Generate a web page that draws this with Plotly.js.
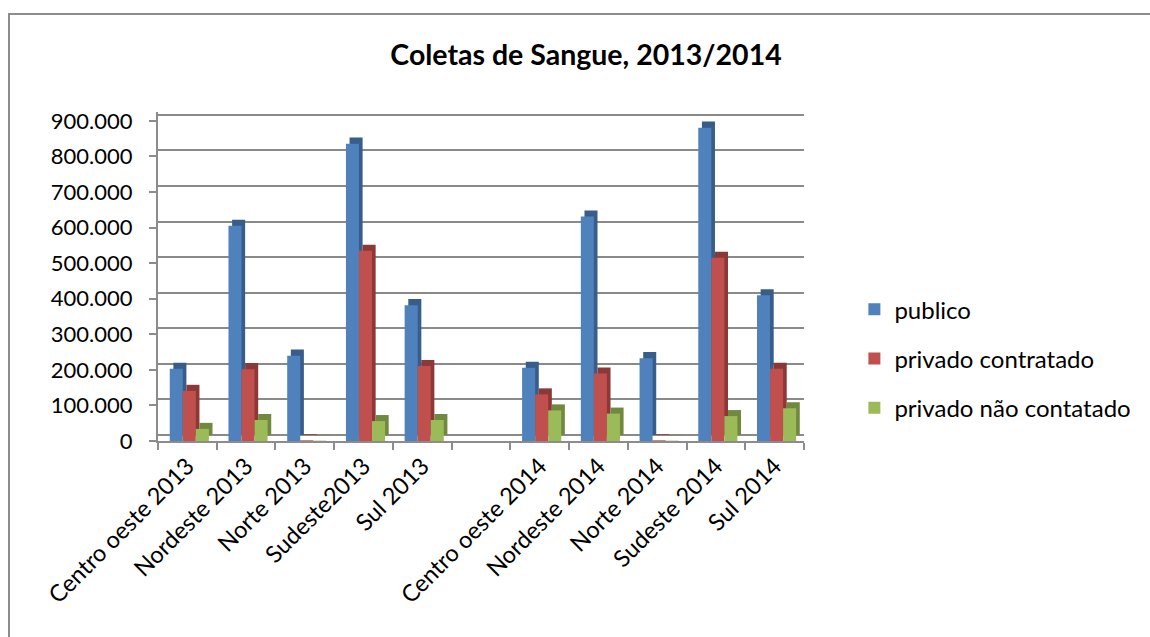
<!DOCTYPE html>
<html>
<head>
<meta charset="utf-8">
<script src="https://cdn.plot.ly/plotly-3.0.1.min.js"></script>
<style>
html,body{margin:0;padding:0;background:#fff;overflow:hidden;}
#chart{position:absolute;left:0;top:0;width:1150px;height:637px;}
#frame{position:absolute;left:8px;top:13px;width:1200px;height:700px;border-left:2px solid #8c8c8c;border-top:2px solid #8c8c8c;pointer-events:none;}
</style>
</head>
<body>
<div id="chart"></div>
<div id="frame"></div>
<script>
// ---- data ----
const categories = ['Centro oeste 2013','Nordeste 2013','Norte 2013','Sudeste2013','Sul 2013',' ',
                    'Centro oeste 2014','Nordeste 2014','Norte 2014','Sudeste 2014','Sul 2014'];
const publico = [203000, 605000, 240000, 836000, 382000, null, 206000, 631000, 233000, 881000, 410000];
const privadoContratado = [141000, 202000, 2000, 535000, 211000, null, 131000, 190000, 2000, 515000, 203000];
const privadoNaoContatado = [34000, 59000, 1000, 56000, 59000, null, 86000, 77000, 1000, 70000, 92000];
const seriesNames = ['publico','privado contratado','privado não contatado'];
const frontColors = ['#4F81BD','#C0504D','#9BBB59'];
const sideColors = ['#385D8A','#8C3836','#71893F'];

// ---- styling / geometry ----
const FONT = 'Lato, "Open Sans", sans-serif';
const TOP = 925000;          // visible value range of the front axis
const DEPTH_SHIFT = 17000;   // apparent depth (back wall and bar side faces)
const BAR_W = 0.222;
const offsets = [-0.30, -0.078, 0.144];
const DEPTH_X = 0.062;

const seriesValues = [publico, privadoContratado, privadoNaoContatado];
const sideAxes = ['y', 'y3', 'y5'];
const frontAxes = ['y2', 'y4', 'y6'];
const traces = [];
seriesValues.forEach((vals, i) => {
  // side / depth face (drawn first, behind front face)
  traces.push({
    type:'bar', x:categories, y:vals, name:seriesNames[i],
    yaxis: sideAxes[i], showlegend:false, hoverinfo:'skip',
    width:BAR_W, offset:offsets[i] + DEPTH_X,
    marker:{color:sideColors[i], line:{width:0}}
  });
  // front face
  traces.push({
    type:'bar', x:categories, y:vals, name:seriesNames[i],
    yaxis: frontAxes[i], legendgroup:'g'+i,
    width:BAR_W, offset:offsets[i],
    marker:{color:frontColors[i], line:{width:0}}
  });
});

const hiddenAxis = (lo, hi) => ({
  overlaying:'y', range:[lo, hi], visible:false, fixedrange:true
});

const layout = {
  width:1150, height:637,
  margin:{l:158, r:346, t:112, b:196},
  paper_bgcolor:'#ffffff', plot_bgcolor:'rgba(0,0,0,0)',
  separators:',.',
  barmode:'overlay',
  font:{family:FONT, color:'#000', size:21},
  title:{text:'<b>Coletas de Sangue, 2013/2014</b>', xref:'container', x:0.5096,
         y:0.913, yanchor:'middle', xanchor:'center', font:{family:FONT, size:28.5, color:'#000'}},
  xaxis:{type:'category', categoryorder:'array', categoryarray:categories,
         range:[-0.5, categories.length-0.5],
         showline:true, linecolor:'#8c8c8c', linewidth:2,
         ticks:'outside', tickson:'boundaries', ticklen:7, tickcolor:'#8c8c8c', tickwidth:2,
         tickangle:-45, tickfont:{family:FONT, size:23.5, color:'#000'},
         showgrid:false, zeroline:false, fixedrange:true},
  // back wall grid + depth faces of first series
  yaxis:{range:[-DEPTH_SHIFT, TOP - DEPTH_SHIFT], showgrid:true, gridcolor:'#8a8a8a', gridwidth:2,
         dtick:100000, tick0:0, showticklabels:false, ticks:'', showline:false, zeroline:false,
         fixedrange:true},
  yaxis2:{overlaying:'y', range:[0, TOP], dtick:100000, tick0:0, tickformat:',d',
          showgrid:false, zeroline:false, showline:true, linecolor:'#8c8c8c', linewidth:2,
          ticks:'outside', ticklen:7, tickcolor:'#8c8c8c', tickwidth:2, ticklabelstandoff:12,
          tickfont:{family:FONT, size:22, color:'#000'}, fixedrange:true},
  yaxis3: hiddenAxis(-DEPTH_SHIFT, TOP - DEPTH_SHIFT),
  yaxis4: hiddenAxis(0, TOP),
  yaxis5: hiddenAxis(-DEPTH_SHIFT, TOP - DEPTH_SHIFT),
  yaxis6: hiddenAxis(0, TOP),
  showlegend:true,
  legend:{x:1.078, xanchor:'left', y:0.25, yanchor:'middle', tracegroupgap:15,
          font:{family:FONT, size:24, color:'#000'}, bgcolor:'rgba(0,0,0,0)', itemclick:false}
};

Plotly.newPlot('chart', traces, layout, {displayModeBar:false, staticPlot:true});
</script>
</body>
</html>
